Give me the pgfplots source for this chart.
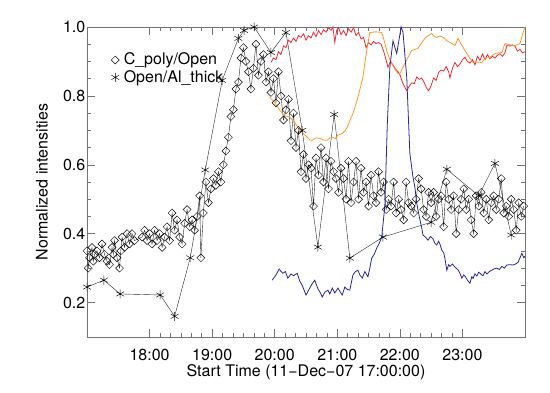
\documentclass[border=0pt]{standalone}
\usepackage{fontspec}
\setmainfont{TeX Gyre Heros}
\usepackage{pgfplots}
\pgfplotsset{compat=1.18}
\definecolor{cred}{RGB}{235,45,55}
\definecolor{corange}{RGB}{255,150,40}
\definecolor{cblue}{RGB}{40,40,150}
\newcommand{\bigf}{\fontsize{16bp}{19bp}\selectfont}
\begin{document}
\bigf
\begin{tikzpicture}
\path[use as bounding box] (0,0) rectangle (550bp,393bp);
\begin{axis}[
  at={(87bp,56bp)}, anchor=south west,
  scale only axis, width=438bp, height=310bp,
  xmin=0, xmax=7, ymin=0.1, ymax=1.0,
  clip=false,
  xtick={1,2,3,4,5,6},
  xticklabels={18:00,19:00,20:00,21:00,22:00,23:00},
  minor x tick num=5,
  ytick={0.2,0.4,0.6,0.8,1.0},
  minor y tick num=3,
  /pgf/number format/fixed,
  /pgf/number format/fixed zerofill,
  /pgf/number format/precision=1,
  /pgf/number format/assume math mode=true,
  tick label style={font=\bigf, black},
  xticklabel style={anchor=north, inner sep=0pt, yshift=-12bp},
  yticklabel style={anchor=east, inner sep=0pt, xshift=-1.5bp},
  major tick length=8bp, minor tick length=4bp,
  tick style={black!55, line width=0.5bp},
  axis line style={black!55, line width=0.6bp},
  xlabel={Start Time (11−Dec−07 17:00:00)},
  xlabel style={at={(axis description cs:0.5,-0.129)}, anchor=base, inner sep=0pt, font=\bigf},
  ylabel={Normalized intensities},
  ylabel style={at={(axis description cs:-0.089,0.5)}, anchor=south, inner sep=0pt, font=\bigf},
  legend cell align=left,
  legend image code/.code={\path[draw=none,fill=none] (0bp,-4bp) rectangle (8bp,4bp); \draw[#1] plot coordinates {(4bp,0bp)};},
  legend style={draw=none, fill=none, at={(axis description cs:0.055,0.922)}, anchor=north west,
     inner sep=0pt, row sep=0pt, font=\bigf, nodes={inner xsep=4.5bp, inner ysep=1.5bp}},
]
% C_poly/Open
\addplot[black!85, line width=0.4bp, mark=square, mark size=2.8bp, mark options={rotate=45, solid, line width=0.45bp, black}] coordinates {
(0.00,0.35) (0.02,0.30) (0.04,0.33) (0.08,0.36) (0.10,0.32) (0.12,0.34) (0.16,0.35) (0.20,0.33) (0.24,0.37) (0.28,0.34)
(0.32,0.32) (0.36,0.31) (0.40,0.36) (0.42,0.34) (0.44,0.38) (0.48,0.33) (0.52,0.30) (0.54,0.35) (0.56,0.39) (0.60,0.36)
(0.64,0.40) (0.68,0.37) (0.72,0.40) (0.76,0.38) (0.88,0.39) (0.92,0.41) (0.96,0.38) (1.00,0.40)
(1.04,0.37) (1.08,0.41) (1.12,0.38) (1.16,0.40) (1.20,0.36) (1.24,0.39) (1.28,0.42) (1.32,0.38)
(1.36,0.46) (1.40,0.41) (1.44,0.44) (1.48,0.39) (1.52,0.37) (1.56,0.43) (1.60,0.47) (1.64,0.42)
(1.68,0.44) (1.72,0.41) (1.76,0.45) (1.80,0.51) (1.82,0.33) (1.86,0.46) (1.90,0.55) (1.94,0.49)
(1.98,0.53) (2.02,0.56) (2.06,0.54) (2.10,0.58) (2.14,0.55) (2.18,0.60) (2.22,0.64) (2.26,0.68)
(2.30,0.74) (2.34,0.76) (2.38,0.82) (2.42,0.84) (2.46,0.91) (2.50,0.94) (2.54,0.90) (2.58,0.87)
(2.62,0.82) (2.66,0.88) (2.70,0.95) (2.74,0.86) (2.78,0.90) (2.82,0.92) (2.86,0.84) (2.90,0.87)
(2.94,0.81) (2.98,0.85) (3.02,0.78) (3.06,0.87) (3.10,0.80) (3.14,0.73) (3.18,0.76) (3.22,0.79)
(3.26,0.67) (3.30,0.75) (3.34,0.65) (3.38,0.70) (3.42,0.58) (3.46,0.63) (3.50,0.56) (3.54,0.60)
(3.58,0.59) (3.62,0.48) (3.66,0.62) (3.70,0.57) (3.74,0.65) (3.78,0.55) (3.82,0.62) (3.86,0.53)
(3.90,0.61) (3.94,0.58) (3.98,0.56) (4.02,0.52) (4.06,0.59) (4.10,0.56) (4.14,0.50) (4.18,0.61)
(4.22,0.49) (4.26,0.55) (4.30,0.61) (4.34,0.50) (4.38,0.59) (4.42,0.52) (4.46,0.55) (4.50,0.48)
(4.54,0.57) (4.58,0.51) (4.62,0.49) (4.66,0.58) (4.70,0.52) (4.74,0.55) (4.78,0.47) (4.82,0.50)
(4.86,0.48) (4.90,0.55) (4.94,0.46) (4.98,0.50) (5.02,0.47) (5.06,0.44) (5.10,0.55) (5.14,0.49)
(5.18,0.48) (5.22,0.46) (5.26,0.50) (5.30,0.56) (5.34,0.53) (5.38,0.47) (5.42,0.45) (5.46,0.52)
(5.50,0.49) (5.54,0.52) (5.58,0.45) (5.62,0.50) (5.66,0.51) (5.70,0.42) (5.74,0.55) (5.78,0.50)
(5.82,0.47) (5.86,0.51) (5.90,0.40) (5.94,0.47) (5.98,0.50) (6.02,0.53) (6.06,0.47) (6.10,0.50)
(6.14,0.44) (6.18,0.40) (6.22,0.51) (6.26,0.48) (6.30,0.52) (6.34,0.46) (6.38,0.50) (6.42,0.44)
(6.46,0.49) (6.50,0.51) (6.54,0.47) (6.58,0.50) (6.62,0.56) (6.66,0.46) (6.70,0.48) (6.74,0.45)
(6.78,0.50) (6.82,0.47) (6.86,0.41) (6.90,0.49) (6.94,0.45) (6.98,0.48)
};
\addlegendentry{C\_poly/Open}
% Open/Al_thick
\addplot[black!85, line width=0.4bp, mark=asterisk, mark size=4.5bp, mark options={solid, line width=0.45bp, black}] coordinates {
(0.00,0.245) (0.27,0.265) (0.53,0.225) (1.17,0.222) (1.40,0.16) (1.65,0.33) (1.89,0.585)
(2.16,0.845) (2.42,0.967) (2.51,0.99) (2.67,1.0) (2.94,0.926) (3.18,0.984) (3.44,0.70)
(3.69,0.361) (3.95,0.746) (4.20,0.329) (4.73,0.39) (5.50,0.433) (5.75,0.587) (6.26,0.51)
(6.52,0.604) (6.78,0.396)
};
\addlegendentry{Open/Al\_thick}
% red
\addplot[cred, line width=0.8bp, forget plot] coordinates {
(2.94,0.897) (2.98,0.91) (3.02,0.905) (3.06,0.928) (3.10,0.92) (3.14,0.945) (3.18,0.94) (3.22,0.962)
(3.26,0.955) (3.30,0.968) (3.34,0.958) (3.38,0.975) (3.42,0.97) (3.46,0.98) (3.50,0.962) (3.54,0.975)
(3.58,0.968) (3.62,0.985) (3.66,0.972) (3.70,0.99) (3.74,0.978) (3.78,0.992) (3.82,0.985) (3.86,0.998)
(3.90,0.99) (3.93,1.0) (3.96,0.955) (3.99,0.99) (4.02,0.998) (4.06,0.978) (4.10,0.99) (4.14,0.975)
(4.18,0.995) (4.22,0.985) (4.26,0.998) (4.30,0.975) (4.34,0.985) (4.38,0.965) (4.42,0.97) (4.46,0.94)
(4.50,0.955) (4.54,0.948) (4.58,0.958) (4.62,0.952) (4.66,0.955) (4.70,0.95) (4.74,0.93) (4.78,0.905)
(4.81,0.883) (4.85,0.9) (4.89,0.89) (4.93,0.878) (4.97,0.87) (5.00,0.862) (5.04,0.84) (5.08,0.825)
(5.11,0.815) (5.15,0.828) (5.19,0.838) (5.23,0.835) (5.27,0.855) (5.31,0.848) (5.35,0.852) (5.39,0.838)
(5.43,0.822) (5.46,0.815) (5.50,0.83) (5.54,0.852) (5.58,0.845) (5.62,0.868) (5.66,0.875) (5.70,0.872)
(5.74,0.885) (5.78,0.87) (5.80,0.852) (5.84,0.88) (5.88,0.897) (5.92,0.885) (5.96,0.892) (6.00,0.905)
(6.04,0.912) (6.08,0.9) (6.12,0.895) (6.16,0.905) (6.20,0.89) (6.24,0.915) (6.28,0.903) (6.32,0.922)
(6.36,0.905) (6.40,0.92) (6.44,0.908) (6.48,0.915) (6.52,0.91) (6.56,0.918) (6.60,0.922) (6.64,0.915)
(6.68,0.925) (6.71,0.946) (6.76,0.945) (6.80,0.948) (6.84,0.944) (6.88,0.93) (6.92,0.935) (6.96,0.925)
(7.00,0.928)
};
% orange
\addplot[corange, line width=0.8bp, forget plot] coordinates {
(2.92,0.796) (3.00,0.781) (3.08,0.758) (3.16,0.743) (3.24,0.738) (3.32,0.723) (3.40,0.70) (3.46,0.69)
(3.52,0.68) (3.56,0.672) (3.60,0.671) (3.66,0.678) (3.72,0.677) (3.78,0.672) (3.84,0.671) (3.88,0.678)
(3.93,0.68) (3.97,0.676) (4.01,0.686) (4.08,0.691) (4.12,0.698) (4.16,0.709) (4.20,0.728) (4.25,0.749)
(4.29,0.772) (4.33,0.796) (4.37,0.825) (4.41,0.854) (4.44,0.895) (4.47,0.932) (4.52,0.984) (4.62,0.986)
(4.71,0.984) (4.75,0.96) (4.79,0.932) (4.83,0.91) (4.87,0.894) (4.92,0.878) (4.97,0.865) (5.00,0.865)
(5.04,0.88) (5.08,0.894) (5.13,0.912) (5.19,0.932) (5.24,0.935) (5.29,0.938) (5.34,0.952) (5.40,0.967)
(5.45,0.975) (5.51,0.981) (5.55,0.972) (5.59,0.97) (5.64,0.974) (5.69,0.97) (5.75,0.96) (5.80,0.955)
(5.85,0.95) (5.88,0.946) (5.93,0.967) (5.98,0.95) (6.04,0.932) (6.08,0.92) (6.12,0.909) (6.17,0.897)
(6.24,0.898) (6.31,0.897) (6.36,0.909) (6.44,0.912) (6.52,0.923) (6.58,0.925) (6.63,0.926) (6.68,0.952)
(6.76,0.948) (6.84,0.946) (6.92,0.952) (6.97,0.984) (7.00,1.0)
};
% blue
\addplot[cblue, line width=0.8bp, forget plot] coordinates {
(2.96,0.265) (3.02,0.28) (3.07,0.297) (3.13,0.285) (3.17,0.29) (3.21,0.271) (3.26,0.283) (3.30,0.278)
(3.36,0.285) (3.40,0.262) (3.44,0.25) (3.50,0.222) (3.56,0.242) (3.60,0.255) (3.64,0.265) (3.69,0.24)
(3.73,0.228) (3.76,0.216) (3.80,0.23) (3.85,0.236) (3.88,0.225) (3.92,0.242) (3.96,0.228) (4.01,0.242)
(4.05,0.23) (4.08,0.222) (4.12,0.245) (4.16,0.238) (4.20,0.236) (4.25,0.28) (4.29,0.29) (4.33,0.294)
(4.36,0.28) (4.40,0.271) (4.44,0.29) (4.49,0.275) (4.52,0.30) (4.55,0.329) (4.59,0.34) (4.63,0.358)
(4.67,0.372) (4.71,0.39) (4.76,0.48) (4.80,0.72) (4.84,0.883) (4.89,0.96) (4.93,0.935) (4.95,0.923)
(4.99,0.967) (5.02,1.0) (5.05,0.985) (5.08,0.92) (5.11,0.854) (5.16,0.633) (5.21,0.564) (5.24,0.535)
(5.27,0.488) (5.31,0.45) (5.35,0.416) (5.37,0.396) (5.41,0.39) (5.45,0.381) (5.49,0.392) (5.53,0.385)
(5.56,0.372) (5.59,0.367) (5.62,0.378) (5.64,0.37) (5.67,0.352) (5.70,0.345) (5.72,0.329) (5.75,0.294)
(5.78,0.31) (5.80,0.305) (5.84,0.312) (5.88,0.303) (5.93,0.295) (5.96,0.285) (5.99,0.271) (6.02,0.28)
(6.04,0.277) (6.08,0.265) (6.12,0.256) (6.15,0.275) (6.17,0.27) (6.20,0.283) (6.23,0.277) (6.26,0.288)
(6.28,0.285) (6.31,0.28) (6.33,0.278) (6.36,0.29) (6.39,0.283) (6.43,0.29) (6.47,0.294) (6.51,0.298)
(6.55,0.30) (6.59,0.296) (6.63,0.305) (6.67,0.30) (6.71,0.309) (6.76,0.31) (6.81,0.309) (6.85,0.312)
(6.89,0.317) (6.92,0.33) (6.95,0.343) (6.98,0.33) (7.00,0.335)
};
\end{axis}
\end{tikzpicture}
\end{document}
